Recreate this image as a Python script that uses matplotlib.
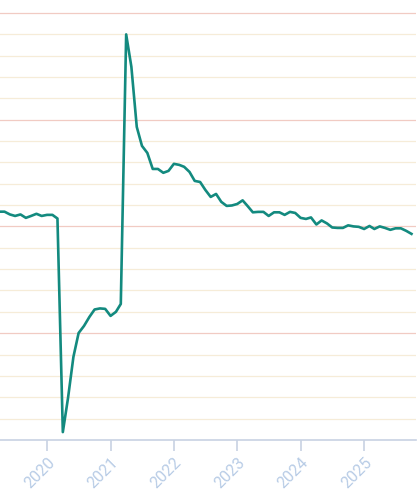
import matplotlib
matplotlib.use("Agg")
import matplotlib.pyplot as plt
import pandas as pd

# Monthly index values, April 2019 .. October 2025
start_month = "2019-04-01"
values = [
    106.9, 106.9, 105.6, 104.9, 105.6, 104.0, 104.9, 105.9, 104.9,   # 2019 Apr-Dec
    105.4, 105.4, 103.7, 3.7, 19.7, 38.9, 50.1, 53.4, 57.6, 61.1, 61.6, 61.4,  # 2020
    58.1, 60.0, 63.7, 189.9, 174.7, 146.6, 137.7, 134.4, 126.9, 126.9, 125.1, 126.0,  # 2021
    129.3, 128.8, 127.9, 125.5, 121.3, 120.8, 117.1, 113.8, 115.2, 111.5, 109.6, 109.8,  # 2022
    110.5, 112.2, 109.6, 106.6, 106.8, 106.8, 104.9, 106.6, 106.6, 105.4, 106.8, 106.3,  # 2023
    104.0, 103.5, 104.2, 100.9, 102.8, 101.4, 99.5, 99.3, 99.3, 100.5, 100.0, 99.8,  # 2024
    98.8, 100.2, 98.8, 100.0, 99.3, 98.4, 99.1, 99.1, 97.9, 96.5,  # 2025 Jan-Oct
]
year_ticks = ["2020", "2021", "2022", "2023", "2024", "2025"]
major_grid = [50, 100, 150, 200]
minor_grid = [10, 20, 30, 40, 60, 70, 80, 90, 110, 120, 130, 140, 160, 170, 180, 190]

dates = pd.date_range(start=start_month, periods=len(values), freq="MS")

fig = plt.figure(figsize=(4.2, 5.01), dpi=100)
ax = fig.add_axes([0.0, 61 / 501, 416 / 420, 1 - 61 / 501])

for g in minor_grid:
    ax.axhline(g, color="#f6ecd8", lw=0.9, zorder=0)
for g in major_grid:
    ax.axhline(g, color="#f1cbc3", lw=0.9, zorder=0)

ax.plot(dates, values, color="#138a7f", lw=1.9, solid_joinstyle="round", zorder=3)

ax.set_ylim(0, 206)
ax.set_xlim(pd.Timestamp("2019-04-05"), pd.Timestamp("2025-10-27"))

for s in ["top", "left", "right"]:
    ax.spines[s].set_visible(False)
ax.spines["bottom"].set_color("#c8d2e3")
ax.spines["bottom"].set_linewidth(1.2)
ax.set_yticks([])

ax.set_xticks([pd.Timestamp(f"{y}-01-01") for y in year_ticks])
ax.set_xticklabels(year_ticks, rotation=45, ha="right", rotation_mode="anchor",
                   fontfamily="Roboto", fontsize=11.5, color="#b8cce6")
ax.tick_params(axis="x", direction="out", length=8, width=1.2, color="#c8d2e3", pad=3)

fig.savefig("out.png", dpi=100)
